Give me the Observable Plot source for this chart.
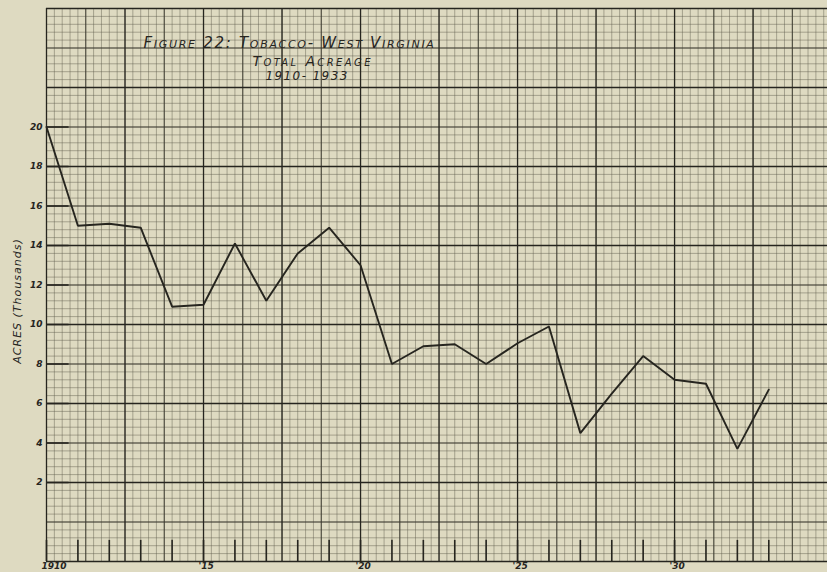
<!DOCTYPE html>
<html>
<head>
<meta charset="utf-8">
<script src="https://cdn.jsdelivr.net/npm/d3@7"></script>
<script src="https://cdn.jsdelivr.net/npm/@observablehq/plot@0.6"></script>
<style>
  html, body { margin: 0; padding: 0; background: #dedac1; }
  #chart { width: 827px; height: 572px; overflow: hidden; }
  svg { display: block; }
</style>
</head>
<body>
<div id="chart"></div>
<script>
// Data
const years = [1910, 1911, 1912, 1913, 1914, 1915, 1916, 1917, 1918, 1919, 1920, 1921,
               1922, 1923, 1924, 1925, 1926, 1927, 1928, 1929, 1930, 1931, 1932, 1933];
const acres = [20.0, 15.0, 15.1, 14.9, 10.9, 11.0, 14.1, 11.2, 13.6, 14.9, 13.0, 8.0,
               8.9, 9.0, 8.0, 9.05, 9.9, 4.5, 6.5, 8.4, 7.2, 7.0, 3.7, 6.7];

// Tick labels
const yTicks = [2, 4, 6, 8, 10, 12, 14, 16, 18, 20];
const xTickYears = [1910, 1915, 1920, 1925, 1930];
const xTickLabels = ["1910", "'15", "'20", "'25", "'30"];

const titleLines = ["Figure 22: Tobacco- West Virginia", "Total Acreage", "1910- 1933"];
const yLabel = "ACRES (Thousands)";

const data = years.map((y, i) => ({year: y, acres: acres[i]}));

// Graph-paper grid (0.25 yr x 0.4 thousand acres cells)
const xMinor = d3.range(0, 101).map(i => 1910 + i * 0.25);
const yMinor = d3.range(0, 71).map(i => -2 + i * 0.4);
const xMed = xMinor.filter((_, i) => i % 5 === 0 && i % 10 !== 0);
const yMed = yMinor.filter((_, i) => i % 5 === 0 && i % 10 !== 0);
const xBold = xMinor.filter((_, i) => i % 10 === 0);
const yBold = yMinor.filter((_, i) => i % 10 === 0);

const ink = "#26251f";
const font = "'DejaVu Sans', 'Liberation Sans', sans-serif";

const chart = Plot.plot({
  width: 827,
  height: 572,
  marginLeft: 46,
  marginRight: 0,
  marginTop: 8,
  marginBottom: 11,
  style: {background: "#dedac1", fontFamily: font, overflow: "hidden"},
  x: {domain: [1910, 1934.87], axis: null},
  y: {domain: [-2, 26], axis: null},
  marks: [
    Plot.ruleX(xMinor, {stroke: "#5d5b4c", strokeOpacity: 0.5, strokeWidth: 0.9}),
    Plot.ruleY(yMinor, {stroke: "#5d5b4c", strokeOpacity: 0.5, strokeWidth: 0.9}),
    Plot.ruleX(xMed, {stroke: "#3a392f", strokeOpacity: 0.9, strokeWidth: 1}),
    Plot.ruleY(yMed, {stroke: "#3a392f", strokeOpacity: 0.9, strokeWidth: 1}),
    Plot.ruleX(xBold, {stroke: ink, strokeWidth: 1.3}),
    Plot.ruleY(yBold, {stroke: ink, strokeWidth: 1.3}),
    // year tick marks along bottom
    Plot.ruleX(years, {y1: -2, y2: -0.93, stroke: ink, strokeWidth: 1.6}),
    // short label ticks on the y axis
    Plot.ruleY(yTicks, {x1: 1910, x2: 1910.72, stroke: ink, strokeWidth: 1.6}),
    // data line
    Plot.line(data, {x: "year", y: "acres", stroke: ink, strokeWidth: 1.9, strokeLinejoin: "miter"}),
    // y tick labels
    Plot.text(yTicks, {x: 1910, y: d => d, text: d => String(d), dx: -4, textAnchor: "end",
      fontSize: 9, fontStyle: "italic", fontWeight: "bold", fill: ink}),
    // x tick labels
    Plot.text(xTickYears, {x: d => d, text: (d, i) => xTickLabels[i], frameAnchor: "bottom",
      dx: -5, dy: 1, textAnchor: "start", lineAnchor: "top", fontSize: 9, fontStyle: "italic",
      fontWeight: "bold", fill: ink}),
    // y axis label
    Plot.text([yLabel], {frameAnchor: "left", dx: -29, dy: 16, rotate: -90, textAnchor: "middle",
      fontSize: 11, fontStyle: "italic", fill: ink}),
    // titles
    Plot.text([titleLines[0]], {frameAnchor: "top-left", dx: 97, dy: 35, textAnchor: "start",
      lineAnchor: "middle", fontSize: 15, fontStyle: "italic", fontVariant: "small-caps", fill: ink}),
    Plot.text([titleLines[1]], {frameAnchor: "top-left", dx: 206, dy: 53, textAnchor: "start",
      lineAnchor: "middle", fontSize: 14, fontStyle: "italic", fontVariant: "small-caps", fill: ink}),
    Plot.text([titleLines[2]], {frameAnchor: "top-left", dx: 219, dy: 68, textAnchor: "start",
      lineAnchor: "middle", fontSize: 12, fontStyle: "italic", fill: ink})
  ]
});
document.getElementById("chart").appendChild(chart);

// letter spacing to match the hand-lettered widths
const spacing = new Map([[titleLines[0], 1.7], [titleLines[1], 2.4], [titleLines[2], 1.4], [yLabel, 1]]);
d3.select(chart).selectAll("text").each(function () {
  const t = this.textContent;
  if (spacing.has(t)) this.setAttribute("letter-spacing", spacing.get(t));
});
</script>
</body>
</html>
